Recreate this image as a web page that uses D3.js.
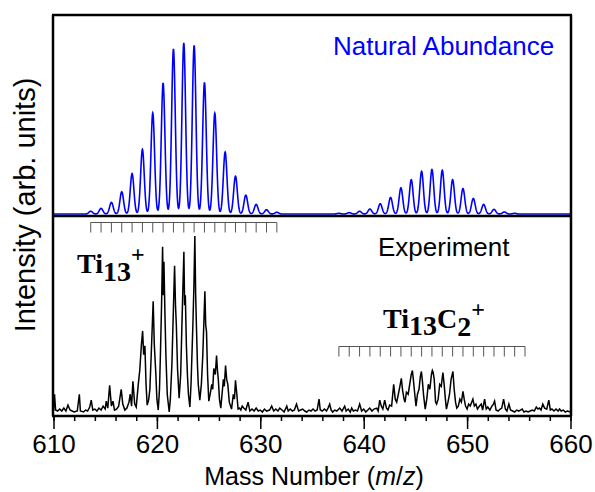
<!DOCTYPE html>
<html>
<head>
<meta charset="utf-8">
<script src="https://cdn.jsdelivr.net/npm/d3@7"></script>
<style>
  body { margin: 0; background: #fff; }
  #chart { position: relative; width: 595px; height: 492px; }
  #chart svg { display: block; position: absolute; left: 0; top: 0; font-family: "Liberation Sans", Arial, sans-serif; }
</style>
</head>
<body>
<div id="chart"></div>
<script>

// simulated isotope sticks (relative height, %), Ti13+ and Ti13C2+
var ti13Start = 613.6
var ti13Sticks = [1.6, 3.3, 6.8, 13, 23.6, 37.8, 59.1, 76.6, 96.5, 100, 98.6, 76.9, 58.9, 36.2, 22.1, 11, 5.6, 2.5, 1]
var ti13c2Start = 637.6
var ti13c2Sticks = [0.4, 0.8, 1.6, 2.9, 6.0, 9.7, 15.3, 20.0, 25.0, 26.0, 25.6, 20.0, 14.9, 9.1, 5.6, 2.7, 1.2, 0.4]

// marker combs (19 masses each)
var ti13Comb = d3.range(19).map(function (i) { return 613.6 + i })
var ti13c2Comb = d3.range(19).map(function (i) { return 637.6 + i })

// experiment trace: [mass, intensity]
var experiment = [
  [610.0, 3], [610.1, 20], [610.2, 4], [610.4, 3], [610.6, 5], [610.8, 3], [611.0, 6], [611.2, 3], [611.4, 9], [611.6, 4],
  [611.8, 3], [612.0, 2], [612.3, 3], [612.5, 20], [612.6, 3], [612.9, 2], [613.1, 4], [613.3, 3], [613.5, 7], [613.65, 14],
  [613.8, 4], [614.0, 5], [614.2, 3], [614.4, 6], [614.6, 4], [614.8, 8], [615.0, 5], [615.1, 13], [615.25, 6], [615.43, 29],
  [615.6, 8], [615.75, 13], [615.9, 4], [616.1, 5], [616.3, 8], [616.55, 25], [616.7, 10], [616.9, 4], [617.1, 6], [617.3, 12],
  [617.42, 20], [617.55, 8], [617.68, 33], [617.85, 10], [618.0, 7], [618.2, 30], [618.35, 45], [618.5, 70], [618.62, 84], [618.72, 60],
  [618.84, 69], [618.95, 30], [619.06, 9], [619.2, 14], [619.32, 25], [619.45, 60], [619.64, 114], [619.75, 70], [619.9, 40], [620.0, 15],
  [620.13, 4], [620.25, 25], [620.34, 60], [620.45, 110], [620.55, 169], [620.62, 120], [620.68, 154], [620.78, 100], [620.87, 60], [621.0, 20],
  [621.19, 2], [621.3, 15], [621.45, 50], [621.58, 100], [621.71, 150], [621.8, 110], [621.88, 90], [622.0, 45], [622.15, 16], [622.3, 40],
  [622.42, 90], [622.52, 130], [622.61, 164], [622.68, 110], [622.75, 120], [622.85, 70], [622.95, 40], [623.05, 20], [623.19, 7], [623.3, 30],
  [623.48, 90], [623.58, 130], [623.67, 180], [623.75, 120], [623.82, 90], [623.92, 50], [624.0, 30], [624.15, 14], [624.3, 30], [624.44, 60],
  [624.55, 95], [624.64, 124], [624.72, 90], [624.8, 83], [624.9, 40], [625.02, 13], [625.15, 20], [625.31, 30], [625.4, 25], [625.5, 46],
  [625.65, 40], [625.77, 59], [625.85, 45], [625.94, 35], [626.05, 15], [626.18, 6], [626.3, 20], [626.43, 35], [626.52, 28], [626.64, 49],
  [626.75, 35], [626.86, 30], [627.0, 12], [627.22, 5], [627.39, 20], [627.5, 15], [627.6, 34], [627.73, 20], [627.85, 5], [628.0, 6],
  [628.12, 4], [628.25, 8], [628.4, 6], [628.6, 4], [628.82, 12], [628.99, 3], [629.2, 5], [629.4, 3], [629.6, 6], [629.8, 3],
  [630.0, 4], [630.2, 2], [630.4, 5], [630.6, 3], [630.9, 4], [631.1, 8], [631.3, 3], [631.5, 5], [631.7, 3], [631.88, 6],
  [632.1, 4], [632.3, 2], [632.56, 8], [632.7, 3], [632.9, 5], [633.1, 3], [633.3, 4], [633.5, 10], [633.7, 3], [633.9, 4],
  [634.1, 5], [634.3, 3], [634.5, 2], [634.7, 4], [634.9, 3], [635.1, 5], [635.3, 3], [635.5, 4], [635.68, 15], [635.8, 4],
  [636.0, 3], [636.2, 5], [636.4, 3], [636.55, 6], [636.71, 10], [636.85, 4], [637.0, 2], [637.2, 4], [637.4, 3], [637.68, 6],
  [637.9, 3], [638.16, 8], [638.3, 3], [638.5, 5], [638.7, 2], [638.84, 6], [639.0, 3], [639.2, 4], [639.4, 3], [639.61, 10],
  [639.8, 3], [640.0, 5], [640.2, 2], [640.4, 4], [640.58, 6], [640.8, 3], [641.0, 5], [641.26, 6], [641.4, 3], [641.55, 14],
  [641.7, 8], [641.85, 5], [642.03, 14], [642.2, 6], [642.35, 4], [642.51, 9], [642.7, 8], [642.9, 30], [643.05, 15], [643.19, 12],
  [643.35, 20], [643.5, 28], [643.64, 36], [643.75, 25], [643.9, 15], [644.0, 12], [644.13, 22], [644.3, 20], [644.45, 30], [644.6, 40],
  [644.71, 44], [644.8, 35], [644.92, 22], [645.06, 8], [645.2, 20], [645.35, 25], [645.48, 38], [645.58, 43], [645.68, 33], [645.8, 18],
  [645.95, 5], [646.1, 15], [646.25, 30], [646.4, 25], [646.55, 40], [646.64, 44], [646.72, 42], [646.82, 35], [646.95, 12], [647.05, 10],
  [647.2, 15], [647.35, 30], [647.5, 28], [647.66, 42], [647.78, 30], [647.9, 15], [648.0, 5], [648.15, 12], [648.3, 20], [648.45, 35],
  [648.63, 43], [648.75, 25], [648.88, 12], [649.0, 6], [649.15, 8], [649.3, 15], [649.45, 12], [649.6, 23], [649.72, 15], [649.85, 8],
  [650.0, 5], [650.15, 10], [650.3, 8], [650.45, 12], [650.56, 15], [650.7, 8], [650.85, 10], [651.0, 5], [651.2, 8], [651.37, 10],
  [651.5, 4], [651.69, 15], [651.85, 5], [652.0, 7], [652.2, 4], [652.4, 8], [652.55, 10], [652.66, 13], [652.8, 4], [653.0, 3],
  [653.2, 5], [653.35, 6], [653.53, 15], [653.7, 5], [653.85, 3], [654.04, 10], [654.2, 4], [654.4, 3], [654.6, 2], [654.8, 4],
  [655.0, 3], [655.33, 5], [655.5, 2], [655.7, 3], [655.9, 2], [656.1, 3], [656.3, 4], [656.5, 3], [656.69, 7], [656.85, 5],
  [657.0, 6], [657.15, 4], [657.32, 10], [657.5, 6], [657.7, 5], [657.9, 14], [658.05, 4], [658.2, 5], [658.4, 3], [658.6, 5],
  [658.8, 3], [658.94, 5], [659.1, 3], [659.3, 4], [659.5, 2], [659.7, 3], [660.0, 2]
]

var xTicksMajor = [610, 620, 630, 640, 650, 660]

/******************** layout ********************/
var width = 595, height = 492
var padL = 53, padR = 571, padT = 15, padB = 416, splitY = 216

var svg = d3.select("#chart").append("svg")
    .attr("width", width)
    .attr("height", height)

var x = d3.scaleLinear().domain([610, 660]).range([53.5, 570.5])
var yTop = d3.scaleLinear().domain([0, 100]).range([214, 43])
var yBot = d3.scaleLinear().domain([0, 180]).range([414, 236])

// gaussian broadened stick spectrum for the simulated trace
var sigma = 0.175
var simMass = d3.range(610, 660.001, 0.02)
var sim = simMass.map(function (m) {
    var v = 0
    ti13Sticks.forEach(function (h, i) {
        var d = m - (ti13Start + i); v += h * Math.exp(-d * d / (2 * sigma * sigma))
    })
    ti13c2Sticks.forEach(function (h, i) {
        var d = m - (ti13c2Start + i); v += h * Math.exp(-d * d / (2 * sigma * sigma))
    })
    return [m, v]
})

svg.append("path")
    .datum(sim)
    .attr("fill", "none")
    .attr("stroke", "#0000ff")
    .attr("stroke-width", 1.6)
    .attr("d", d3.line().x(function (d) { return x(d[0]) }).y(function (d) { return yTop(d[1]) }))

svg.append("path")
    .datum(experiment)
    .attr("fill", "none")
    .attr("stroke", "#000")
    .attr("stroke-width", 1.5)
    .attr("d", d3.line().x(function (d) { return x(d[0]) }).y(function (d) { return yBot(d[1]) }))

// marker combs
function drawComb(masses, y0) {
    var g = svg.append("g").attr("stroke", "#555").attr("stroke-width", 1)
    g.append("line")
        .attr("x1", x(masses[0])).attr("x2", x(masses[masses.length - 1]))
        .attr("y1", y0).attr("y2", y0)
    g.selectAll(".tk").data(masses).enter().append("line")
        .attr("x1", function (d) { return x(d) }).attr("x2", function (d) { return x(d) })
        .attr("y1", y0).attr("y2", y0 + 10)
}
drawComb(ti13Comb, 222.5)
drawComb(ti13c2Comb, 346.5)

// x axis: minor every 2, major every 10
var minorAxis = d3.axisBottom(x).tickValues(d3.range(610, 661, 2)).tickSize(5).tickFormat("")
var majorAxis = d3.axisBottom(x).tickValues(xTicksMajor).tickSize(13).tickPadding(6).tickFormat(d3.format("d"))
var ga = svg.append("g").attr("transform", "translate(0," + padB + ")").call(minorAxis)
var gb = svg.append("g").attr("transform", "translate(0," + padB + ")").call(majorAxis)
ga.select(".domain").remove(); gb.select(".domain").remove()
ga.selectAll("line").attr("stroke-width", 1.5)
gb.selectAll("line").attr("stroke-width", 1.5)
gb.selectAll("text")
    .attr("font-family", "Liberation Sans, Arial, sans-serif")
    .attr("font-size", 26)
    .attr("fill", "#000")

// axis titles
var xt = svg.append("text")
    .attr("x", (padL + padR) / 2 + 2).attr("y", 485)
    .attr("text-anchor", "middle")
    .attr("font-size", 25)
xt.append("tspan").text("Mass Number (")
xt.append("tspan").attr("font-style", "italic").text("m")
xt.append("tspan").text("/")
xt.append("tspan").attr("font-style", "italic").text("z")
xt.append("tspan").text(")")

svg.append("text")
    .attr("transform", "translate(35,205) rotate(-90)")
    .attr("text-anchor", "middle")
    .attr("font-size", 29)
    .text("Intensity (arb. units)")

svg.append("text")
    .attr("x", 333).attr("y", 55)
    .attr("font-size", 26)
    .attr("fill", "#0000ff")
    .text("Natural Abundance")

svg.append("text")
    .attr("x", 378).attr("y", 256)
    .attr("font-size", 26)
    .text("Experiment")

// formula labels
var serif = "Liberation Serif, Times New Roman, serif"
var l1 = svg.append("text").attr("x", 77).attr("y", 273)
    .attr("font-family", serif).attr("font-weight", "bold").attr("font-size", 28)
l1.append("tspan").text("Ti")
l1.append("tspan").attr("dy", 8).text("13")
l1.append("tspan").attr("dy", -19).attr("font-size", 24).text("+")

var l2 = svg.append("text").attr("x", 383).attr("y", 328)
    .attr("font-family", serif).attr("font-weight", "bold").attr("font-size", 28)
l2.append("tspan").text("Ti")
l2.append("tspan").attr("dy", 7).text("13")
l2.append("tspan").attr("dy", -7).text("C")
l2.append("tspan").attr("dy", 8).text("2")
l2.append("tspan").attr("dy", -19).attr("font-size", 24).text("+")

// frame and panel divider in an overlay svg on top of the chart
var overlay = d3.select("#chart").append("svg")
    .attr("width", width)
    .attr("height", height)
    .style("pointer-events", "none")
var edges = [
    [padL - 1, padT, padR + 1, padT],
    [padL - 1, padB, padR + 1, padB],
    [padL, padT, padL, padB],
    [padR, padT, padR, padB],
    [padL, splitY, padR, splitY]
]
edges.forEach(function (e) {
    overlay.append("line")
        .attr("x1", e[0]).attr("y1", e[1]).attr("x2", e[2]).attr("y2", e[3])
        .attr("stroke", "black").attr("stroke-width", 2.5)
})

</script>
</body>
</html>
